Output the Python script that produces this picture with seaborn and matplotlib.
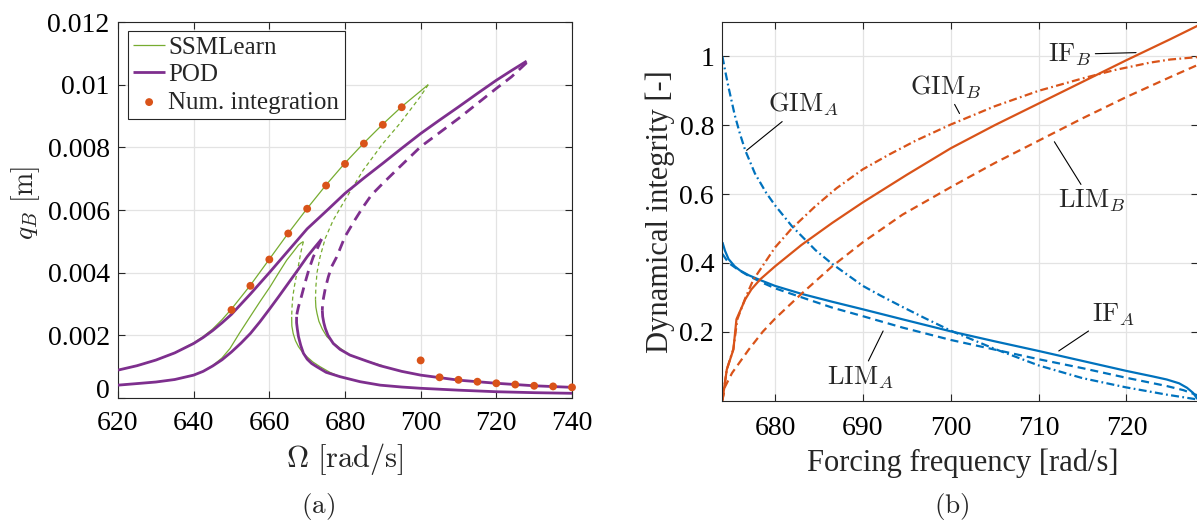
import numpy as np
import matplotlib
matplotlib.use("Agg")
import matplotlib.pyplot as plt
import seaborn as sns

# ---------------- data: panel (a) ----------------
ssm_hi_up_w = [620, 625, 630, 635, 640, 642.5, 645, 647.5, 650, 655, 660, 665, 670, 675, 680, 685,
               690, 695, 702]
ssm_hi_up_q = [0.00089, 0.00103, 0.00121, 0.00144, 0.00176, 0.00196, 0.0022, 0.0025, 0.00284, 0.0036,
               0.00443, 0.00526, 0.00605, 0.0068, 0.0075, 0.00814, 0.00874, 0.0093, 0.0100]
ssm_hi_un_w = [702, 699.8, 694.5, 690, 684.8, 680, 676.9, 674.8, 673.4, 672.6, 672.3, 672.2]
ssm_hi_un_q = [0.0100, 0.0096, 0.00876, 0.00812, 0.00727, 0.00632, 0.00568, 0.0051, 0.0045,
               0.0040, 0.00355, 0.00315]
ssm_hi_lo_w = [672.2, 672.3, 672.6, 673.1, 674.0, 675.2, 677.0, 678.7, 681.3, 685.7, 690]
ssm_hi_lo_q = [0.00315, 0.0029, 0.0027, 0.00245, 0.0022, 0.00196, 0.00175, 0.00159, 0.00137,
               0.00118, 0.00103]

ssm_lo_up_w = [620, 625, 630, 635, 640, 642.5, 645, 647.5, 649.6, 652, 654.9, 657.5, 660.2, 662.5,
               664.6, 666.3, 667.7, 668.4, 669.0]
ssm_lo_up_q = [0.00041, 0.00046, 0.00051, 0.00059, 0.00073, 0.00085, 0.00103, 0.00128, 0.00158,
               0.00205, 0.00259, 0.00307, 0.00355, 0.004, 0.0044, 0.00466, 0.00488, 0.00495, 0.00499]
ssm_lo_un_w = [669.0, 668.6, 668.1, 667.5, 667.1, 666.6, 666.2, 666.0, 665.9]
ssm_lo_un_q = [0.00499, 0.0048, 0.0045, 0.0041, 0.00387, 0.00355, 0.00323, 0.0029, 0.00259]
ssm_lo_lo_w = [665.9, 665.95, 666.3, 666.9, 667.7, 668.7, 669.9, 671.5, 673.4, 676.0, 678.7]
ssm_lo_lo_q = [0.00259, 0.0023, 0.00206, 0.00183, 0.00164, 0.00147, 0.00132, 0.00115, 0.0010,
               0.00082, 0.00068]

pod_hi_up_w = [620, 625, 630, 635, 640, 642.5, 645, 647.5, 650, 655, 660, 665, 670, 675, 680, 685,
               690, 695, 700, 705, 710, 715, 720, 724, 728]
pod_hi_up_q = [0.00089, 0.00103, 0.00121, 0.00144, 0.00174, 0.00193, 0.00215, 0.0024, 0.00267,
               0.00332, 0.0040, 0.0047, 0.0054, 0.00596, 0.00653, 0.00702, 0.00749, 0.00797,
               0.00844, 0.00887, 0.00929, 0.00972, 0.01014, 0.01045, 0.01075]
pod_hi_un_w = [728, 724, 720, 715, 710, 705, 700, 694.5, 690, 687, 684.8, 682.6, 680, 677.8, 676.5,
               675.6, 674.8, 674.3, 674.05, 674.0]
pod_hi_un_q = [0.0107, 0.01025, 0.00988, 0.0094, 0.00892, 0.00847, 0.00802, 0.00738, 0.00685,
               0.00648, 0.0061, 0.00568, 0.00515, 0.0045, 0.0042, 0.00387, 0.0035, 0.00318,
               0.00295, 0.0028]
pod_hi_lo_w = [674.0, 674.1, 674.4, 674.8, 675.5, 676.9, 678.7, 681.3, 685.7, 689.3, 695, 700, 705,
               710, 720, 730, 740]
pod_hi_lo_q = [0.0028, 0.0026, 0.0024, 0.00222, 0.0020, 0.00174, 0.00155, 0.00137, 0.00118,
               0.00103, 0.00085, 0.00073, 0.00065, 0.00057, 0.00047, 0.00039, 0.00034]

pod_lo_up_w = [620, 625, 630, 635, 640, 642.5, 645, 647.5, 650, 652.5, 655, 657.5, 660, 662.5, 665,
               667.5, 670, 672, 673.8]
pod_lo_up_q = [0.00041, 0.00046, 0.00051, 0.00059, 0.00073, 0.00085, 0.00102, 0.00122, 0.00147,
               0.00175, 0.00206, 0.00243, 0.00283, 0.00324, 0.00366, 0.00408, 0.00451, 0.00481,
               0.00507]
pod_lo_un_w = [673.8, 672.8, 671.6, 670.4, 669.4, 668.5, 667.7, 667.35, 667.2]
pod_lo_un_q = [0.00507, 0.0048, 0.0045, 0.00408, 0.00366, 0.00325, 0.00291, 0.00272, 0.00259]
pod_lo_lo_w = [667.2, 667.2, 667.4, 667.7, 668.3, 669.0, 670.0, 671.2, 672.5, 675, 678.7, 684,
               689.3, 695, 700, 710, 720, 730, 740]
pod_lo_lo_q = [0.00259, 0.0024, 0.0022, 0.00196, 0.00168, 0.00143, 0.00124, 0.0011, 0.0010,
               0.00082, 0.00068, 0.00052, 0.00041, 0.00035, 0.00031, 0.00025, 0.0002, 0.00017,
               0.00015]

num_w = [650, 655, 660, 665, 670, 675, 680, 685, 690, 695, 700, 705, 710, 715, 720, 725, 730, 735, 740]
num_q = [0.00281, 0.00358, 0.00442, 0.00525, 0.00604, 0.00678, 0.00747, 0.00812, 0.00872, 0.00928,
         0.0012, 0.00066, 0.00058, 0.00052, 0.00047, 0.00043, 0.00039, 0.00037, 0.00034]

left_xticks = [620, 640, 660, 680, 700, 720, 740]
left_yticks = [0, 0.002, 0.004, 0.006, 0.008, 0.01, 0.012]
left_yticklabels = ["0", "0.002", "0.004", "0.006", "0.008", "0.01", "0.012"]
legend_labels = ["SSMLearn", "POD", "Num. integration"]

# ---------------- data: panel (b) ----------------
f_if_a = [674.0, 674.3, 674.7, 675.4, 676.0, 677.0, 678.3, 680.0, 683.0, 686.5, 690.0, 694.5, 700.0,
          705.0, 710.0, 715.0, 720.0, 723.0, 724.6, 726.0, 726.9, 727.6, 728.1]
if_a = [0.460, 0.435, 0.411, 0.390, 0.378, 0.364, 0.350, 0.333, 0.310, 0.287, 0.265, 0.236, 0.201,
        0.172, 0.144, 0.115, 0.086, 0.070, 0.061, 0.050, 0.037, 0.022, 0.004]
f_lim_a = [674.0, 674.7, 675.8, 677.0, 678.5, 680.0, 683.0, 686.5, 690.0, 694.5, 700.0, 705.0, 710.0,
           715.0, 720.0, 724.6, 726.5, 728.1]
lim_a = [0.426, 0.400, 0.380, 0.362, 0.343, 0.326, 0.300, 0.270, 0.245, 0.212, 0.176, 0.148, 0.120,
         0.094, 0.066, 0.042, 0.030, 0.015]
f_gim_a = [674.0, 674.3, 674.7, 675.4, 676.0, 676.6, 677.7, 679.0, 680.0, 681.9, 684.6, 686.5, 690.0,
           692.0, 694.5, 697.0, 700.0, 705.0, 710.0, 715.0, 720.0, 724.6, 728.1]
gim_a = [1.0, 0.96, 0.91, 0.83, 0.775, 0.727, 0.66, 0.603, 0.567, 0.507, 0.437, 0.397, 0.333,
         0.305, 0.272, 0.240, 0.203, 0.150, 0.102, 0.065, 0.038, 0.017, 0.003]
f_if_b = [674.0, 674.5, 675.25, 675.6, 676.6, 677.3, 678.3, 680.0, 683.0, 686.5, 690.0, 695.0, 700.0,
          705.0, 710.0, 715.0, 720.0, 725.0, 728.1]
if_b = [0.0, 0.09, 0.148, 0.236, 0.294, 0.323, 0.352, 0.39, 0.452, 0.516, 0.576, 0.656, 0.733,
        0.80, 0.863, 0.926, 0.989, 1.05, 1.089]
f_gim_b = [674.0, 674.5, 675.25, 675.7, 676.6, 677.5, 680.0, 681.9, 684.6, 687.0, 690.0, 693.0, 696.0,
           700.0, 705.0, 710.0, 715.0, 718.6, 722.7, 725.0, 728.1]
gim_b = [0.0, 0.09, 0.15, 0.236, 0.297, 0.35, 0.445, 0.50, 0.565, 0.617, 0.672, 0.715, 0.755,
         0.802, 0.855, 0.900, 0.936, 0.960, 0.982, 0.991, 0.998]
f_lim_b = [674.0, 674.3, 675.1, 677.0, 678.6, 680.0, 683.0, 686.5, 690.0, 694.5, 700.0, 705.0, 710.0,
           715.0, 720.0, 725.0, 728.1]
lim_b = [0.0, 0.04, 0.08, 0.148, 0.2, 0.238, 0.31, 0.39, 0.46, 0.54, 0.62, 0.69, 0.755,
         0.82, 0.882, 0.94, 0.975]

right_xticks = [680, 690, 700, 710, 720]
right_yticks = [0.2, 0.4, 0.6, 0.8, 1.0]
right_yticklabels = ["0.2", "0.4", "0.6", "0.8", "1"]

annot_texts = [r"$\mathrm{GIM}_A$", r"$\mathrm{GIM}_B$", r"$\mathrm{IF}_B$",
               r"$\mathrm{LIM}_B$", r"$\mathrm{IF}_A$", r"$\mathrm{LIM}_A$"]
annot_text_xy = [(683.2, 0.86), (699.4, 0.91), (713.6, 1.006), (716.0, 0.58), (718.5, 0.25), (689.7, 0.067)]
annot_point_xy = [(676.76, 0.727), (701.0, 0.834), (721.1, 1.011), (711.8, 0.752), (712.3, 0.144), (692.3, 0.202)]

# ---------------- style ----------------
sns.set_theme(style="whitegrid")
plt.rcParams["font.family"] = ["Liberation Serif", "DejaVu Serif"]
plt.rcParams["mathtext.fontset"] = "cm"
plt.rcParams["axes.unicode_minus"] = False

GREEN = "#77AC30"
PURPLE = "#7E2F8E"
ORANGE = "#D95319"
BLUE = "#0072BD"
FS_TICK = 20
FS_LEG = 18
FS_LAB = 22
FS_ANN = 19

fig = plt.figure(figsize=(11.97, 5.24), dpi=100)
W, H = 1197.0, 524.0
axL = fig.add_axes([118 / W, 1 - 398 / H, 454 / W, 376 / H])
axR = fig.add_axes([722.4 / W, 1 - 400.5 / H, 476 / W, 378.5 / H])


def curve(ax, x, y, color, lw, dashes=None, zorder=2):
    sns.lineplot(x=np.asarray(x), y=np.asarray(y), sort=False, estimator=None, ax=ax,
                 color=color, linewidth=lw, zorder=zorder)
    line = ax.lines[-1]
    if dashes is not None:
        line.set_dashes(dashes)
    line.set_solid_capstyle("butt")
    line.set_dash_capstyle("butt")
    line.set_solid_joinstyle("round")
    return line


GD = (3.2, 2.4)
PD = (3.8, 2.4)

# panel (a)
g1 = curve(axL, ssm_hi_up_w, ssm_hi_up_q, GREEN, 0.9)
curve(axL, ssm_hi_un_w, ssm_hi_un_q, GREEN, 0.9, dashes=GD)
curve(axL, ssm_hi_lo_w, ssm_hi_lo_q, GREEN, 0.9)
curve(axL, ssm_lo_up_w, ssm_lo_up_q, GREEN, 0.9)
curve(axL, ssm_lo_un_w, ssm_lo_un_q, GREEN, 0.9, dashes=GD)
curve(axL, ssm_lo_lo_w, ssm_lo_lo_q, GREEN, 0.9)

p1 = curve(axL, pod_hi_up_w, pod_hi_up_q, PURPLE, 2.0, zorder=3)
curve(axL, pod_hi_un_w, pod_hi_un_q, PURPLE, 2.0, dashes=PD, zorder=3)
curve(axL, pod_hi_lo_w, pod_hi_lo_q, PURPLE, 2.0, zorder=3)
curve(axL, pod_lo_up_w, pod_lo_up_q, PURPLE, 2.0, zorder=3)
curve(axL, pod_lo_un_w, pod_lo_un_q, PURPLE, 2.0, dashes=PD, zorder=3)
curve(axL, pod_lo_lo_w, pod_lo_lo_q, PURPLE, 2.0, zorder=3)

sns.scatterplot(x=np.asarray(num_w), y=np.asarray(num_q), ax=axL, color=ORANGE, s=32,
                edgecolor="none", linewidth=0, zorder=5, clip_on=False)
sc = axL.collections[-1]

axL.set_xlim(620, 740)
axL.set_ylim(0, 0.012)
axL.set_xticks(left_xticks)
axL.set_xticklabels([str(t) for t in left_xticks])
axL.set_yticks(left_yticks)
axL.set_yticklabels(left_yticklabels)

leg = axL.legend([g1, p1, sc], legend_labels, loc="upper left", bbox_to_anchor=(0.022, 0.977),
                 borderaxespad=0, frameon=True, fancybox=False, framealpha=1, edgecolor="#262626",
                 fontsize=FS_LEG, handlelength=1.25, handletextpad=0.15, labelspacing=0.2,
                 borderpad=0.22, scatterpoints=1)
leg.get_frame().set_linewidth(0.8)

axL.set_xlabel(r"$\Omega\ [\mathrm{rad/s}]$", fontsize=FS_LAB)
axL.set_ylabel(r"$q_B\ [\mathrm{m}]$", fontsize=20)
axL.xaxis.set_label_coords(0.5, -0.115)
axL.yaxis.set_label_coords(-0.168, 0.52)

# panel (b)
RD = (3.6, 2.25)
RDD = (3.6, 1.5, 0.8, 1.5)
curve(axR, f_if_a, if_a, BLUE, 1.6)
curve(axR, f_lim_a, lim_a, BLUE, 1.6, dashes=RD)
curve(axR, f_gim_a, gim_a, BLUE, 1.6, dashes=RDD)
curve(axR, f_if_b, if_b, ORANGE, 1.6)
curve(axR, f_lim_b, lim_b, ORANGE, 1.6, dashes=RD)
curve(axR, f_gim_b, gim_b, ORANGE, 1.6, dashes=RDD)

axR.set_xlim(674, 728.2)
axR.set_ylim(0, 1.1)
axR.set_xticks(right_xticks)
axR.set_xticklabels([str(t) for t in right_xticks])
axR.set_yticks(right_yticks)
axR.set_yticklabels(right_yticklabels)
axR.set_xlabel("Forcing frequency [rad/s]", fontsize=FS_LAB)
axR.set_ylabel("Dynamical integrity [-]", fontsize=FS_LAB)
axR.xaxis.set_label_coords(0.505, -0.126)
axR.yaxis.set_label_coords(-0.099, 0.5)

for txt, txy, pxy in zip(annot_texts, annot_text_xy, annot_point_xy):
    axR.annotate(txt, xy=pxy, xytext=txy, ha="center", va="center", fontsize=FS_ANN,
                 arrowprops=dict(arrowstyle="-", color="black", lw=0.8, shrinkA=0, shrinkB=0))

for ax, pad in ((axL, 9), (axR, 11)):
    ax.grid(True, color="#e3e3e3", linewidth=0.9)
    ax.set_axisbelow(True)
    for s in ax.spines.values():
        s.set_visible(True)
        s.set_color("#262626")
        s.set_linewidth(0.8)
    ax.tick_params(axis="both", which="both", direction="in", length=5, width=0.8,
                   colors="#262626", labelcolor="black", labelsize=FS_TICK, top=True, right=True,
                   bottom=True, left=True)
    ax.tick_params(axis="x", pad=pad)
    ax.tick_params(axis="y", pad=6)
    ax.set_facecolor("white")

# sit the "0" label on the axis line, as in the reference, so it clears "620"
axL.get_yticklabels()[0].set_verticalalignment("baseline")

fig.text(318 / W, 1 - 507 / H, r"$\mathrm{(a)}$", ha="center", va="center", fontsize=19.5)
fig.text(952 / W, 1 - 507 / H, r"$\mathrm{(b)}$", ha="center", va="center", fontsize=19.5)

fig.savefig("out.png", dpi=100, facecolor="white")
